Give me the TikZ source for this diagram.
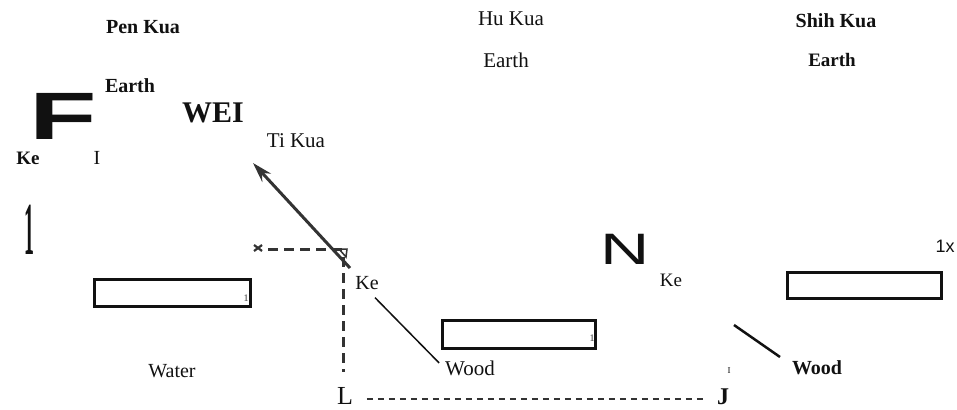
\documentclass[tikz,border=0pt]{standalone}
\usepackage{fontspec}
\setmainfont{Liberation Serif}
\setsansfont{Liberation Sans}
\usetikzlibrary{arrows.meta,calc}
\definecolor{ink}{HTML}{111111}
\definecolor{arrowgray}{HTML}{333333}
\tikzset{
  lbl/.style={inner sep=0pt, outer sep=0pt, text=ink},
  reg/.style={lbl, font=\fontsize{#1}{#1}\selectfont},
  bld/.style={lbl, font=\fontsize{#1}{#1}\selectfont\bfseries},
  bar/.style={draw=ink, line width=3pt, fill=white},
  thickdash/.style={draw=arrowgray, line width=3pt, dash pattern=on 10pt off 6pt},
  thindash/.style={draw=arrowgray, line width=1.3pt, dash pattern=on 6pt off 5pt},
  thinline/.style={draw=ink, line width=1.5pt},
}
\begin{document}
\begin{tikzpicture}[x=1pt,y=-1pt]
\useasboundingbox[fill=white] (0,0) rectangle (957,409);

% top labels
\node[bld=20] (penkua) at (143,27) {Pen Kua};
\node[reg=21] (hukua) at (511,19) {Hu Kua};
\node[bld=20] (shihkua) at (836,21) {Shih Kua};
\node[reg=21] (earthM) at (506,60) {Earth};
\node[bld=19] (earthR) at (832,60) {Earth};
\node[bld=20] (earthL) at (130,86) {Earth};

% big F
\node[lbl] (bigF) at (63,116) {\scalebox{1.65}[1]{\fontsize{67}{67}\selectfont\sffamily\bfseries F}};
\node[bld=30] (wei) at (213,113) {WEI};
\node[reg=21] (tikua) at (296,141) {Ti Kua};
\node[bld=19] (keL) at (28,158) {Ke};
\node[reg=20] (IL) at (97,158) {I};

% tall 1
\node[lbl] (tallone) at (29,230) {\scalebox{0.9}[3.4]{\fontsize{22}{22}\selectfont\bfseries 1}};

% boxes
\node[bar, minimum width=156pt, minimum height=27pt, inner sep=0pt] (box1) at (172.5,293) {};
\node[reg=10, text=arrowgray] (box1one) at (246,298) {1};
\node[bar, minimum width=153pt, minimum height=28pt, inner sep=0pt] (box2) at (519,334.5) {};
\node[reg=10, text=arrowgray] (box2one) at (592,338) {1};
\node[bar, minimum width=154pt, minimum height=26pt, inner sep=0pt] (box3) at (864.5,285.5) {};

\node[reg=20] (water) at (172,371) {Water};

% arrow and dashed guides
\coordinate (arrowstart) at (350,268);
\coordinate (arrowtip) at (253,163);
\draw[draw=arrowgray, line width=3pt, -{Stealth[length=20pt,width=12pt]}] (arrowstart) -- (arrowtip);

\coordinate (xmark) at (258,248);
\draw[draw=arrowgray, line width=2.2pt] ($(xmark)+(-4,-3)$) -- ($(xmark)+(4,3)$) ($(xmark)+(-4,3)$) -- ($(xmark)+(4,-3)$);
\coordinate (corner) at (343,249);
\coordinate (hstart) at (268,249);
\coordinate (vend) at (343,372);
\draw[thickdash] (hstart) -- (corner);
\draw[thickdash] ($(corner)+(0,8)$) -- (vend);
\draw[draw=arrowgray, line width=1.5pt] ($(corner)+(-4,0)$) -- ($(corner)+(4,0)$) -- ($(corner)+(3,8)$) -- cycle;

\node[reg=26] (L) at (345,396) {L};
\node[bld=24] (J) at (723,397) {J};
\draw[thindash] ($(L.east)+(14,3)$) -- ($(J.west)+(-10,2)$);

% middle Ke - Wood
\node[reg=20] (keM) at (367,283) {Ke};
\node[reg=21] (woodM) at (470,368) {Wood};
\draw[thinline] ($(keM.south)+(8,8)$) -- ($(woodM.west)+(-6,-5)$);

% N and right side
\node[lbl] (N) at (625,249) {\scalebox{1.55}[1]{\fontsize{44}{44}\selectfont\sffamily N}};
\node[reg=19] (keR) at (671,280) {Ke};
\node[lbl, font=\fontsize{18}{18}\selectfont\sffamily] (onex) at (945,246) {1x};
\coordinate (rlinestart) at (734,325);
\coordinate (rlineend) at (780,357);
\draw[draw=ink, line width=2.5pt] (rlinestart) -- (rlineend);
\node[reg=9] (Itiny) at (729,371) {I};
\node[bld=20] (woodR) at (817,368) {Wood};
\end{tikzpicture}
\end{document}
